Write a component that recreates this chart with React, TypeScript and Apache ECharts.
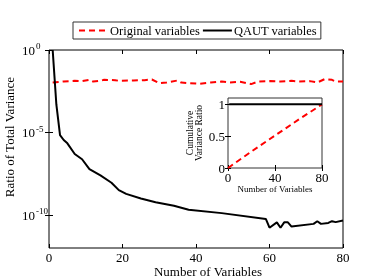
import React, { useEffect, useRef } from "react";
import * as echarts from "echarts";

const FONT = "'Liberation Serif', 'Times New Roman', 'DejaVu Serif', serif";

const seriesNames = ["Original variables", "QAUT variables"];

// Main panel: ratio of total variance per variable (x = variable index)
const originalRatio: [number, number][] = [
  [1, 1.07e-2], [4, 1.23e-2], [7, 1.36e-2], [9, 1.3e-2], [11, 1.56e-2], [12, 1.23e-2],
  [14, 1.36e-2], [15, 1.56e-2], [18, 1.49e-2], [19, 1.36e-2], [23, 1.42e-2], [26, 1.49e-2],
  [28, 1.63e-2], [30, 9.8e-3], [32, 1.07e-2], [35, 1.42e-2], [36, 1.07e-2], [38, 9.8e-3],
  [41, 8.9e-3], [44, 1.07e-2], [47, 1.23e-2], [49, 1.07e-2], [52, 1.2e-2], [55, 8.6e-3],
  [57, 1.23e-2], [60, 1.3e-2], [63, 1.23e-2], [66, 1.36e-2], [68, 1.23e-2], [71, 1.3e-2],
  [73, 1.07e-2], [75, 1.71e-2], [77, 1.56e-2], [78, 1.23e-2], [80, 1.23e-2],
];

const qautRatio: [number, number][] = [
  [1, 1], [2, 5e-4], [3, 7e-6], [4, 3.5e-6], [5, 2.2e-6], [7, 5e-7], [9, 2.4e-7],
  [11, 6e-8], [14, 2.5e-8], [17, 9e-9], [19, 3.2e-9], [21, 1.9e-9], [25, 1e-9],
  [29, 6e-10], [34, 3.6e-10], [38, 2.1e-10], [47, 1.3e-10], [59, 5.8e-11],
  [60, 1.7e-11], [62, 3.6e-11], [63, 1.7e-11], [64, 3.6e-11], [65, 3.6e-11],
  [66, 2e-11], [72, 2.9e-11], [73, 4.2e-11], [74, 2.9e-11], [76, 3.3e-11],
  [77, 4.2e-11], [78, 3.7e-11], [80, 4.6e-11],
];

// Inset: cumulative variance ratio
const originalCumulative: [number, number][] = [
  [0, 0], [20, 0.26], [40, 0.51], [60, 0.76], [80, 1],
];
const qautCumulative: [number, number][] = [
  [1, 1], [80, 1],
];

const mainXTicks = [0, 20, 40, 60, 80];
const mainYTicks = [1, 1e-5, 1e-10];
const insetXTicks = [0, 40, 80];
const insetYTicks = [0, 0.5, 1];

const xTitle = "Number of Variables";
const yTitle = "Ratio of Total Variance";
const insetYTitle = "Cumulative\nVariance Ratio";

export default function App() {
  const ref = useRef<HTMLDivElement>(null);

  useEffect(() => {
    if (!ref.current) return;
    const chart = echarts.init(ref.current, undefined, { renderer: "svg" });

    const tickStyle = { show: true, inside: true, length: 4, lineStyle: { color: "#000", width: 1 } };
    const labelStyle = { fontFamily: FONT, fontSize: 13, color: "#000" };

    const supFormatter = (v: number) => {
      const e = Math.round(Math.log10(v));
      return "{b|10}{s|" + e + "}";
    };
    const supRich = {
      b: { fontFamily: FONT, fontSize: 13, color: "#000" },
      s: { fontFamily: FONT, fontSize: 9, color: "#000", padding: [0, 0, 8, 1] },
    };

    const option: any = {
      animation: false,
      legend: {
        data: seriesNames,
        left: 73,
        top: 22,
        orient: "horizontal",
        itemWidth: 29,
        itemHeight: 14,
        itemGap: 2,
        padding: [2, 4, 2, 5],
        borderColor: "#333",
        borderWidth: 1,
        backgroundColor: "#fff",
        itemStyle: { opacity: 0 },
        textStyle: { fontFamily: FONT, fontSize: 12.5, color: "#000", padding: [0, 0, 0, -3] },
      },
      grid: [
        { left: 49, right: 36, top: 50, bottom: 32, show: true, borderColor: "#000", borderWidth: 1, backgroundColor: "transparent" },
        { left: 228, top: 98, width: 94, height: 70, show: true, borderColor: "#333", borderWidth: 1, backgroundColor: "#fff", z: 5 },
      ],
      xAxis: [
        {
          type: "value", gridIndex: 0, min: 0, max: 80, interval: 20, position: "bottom",
          axisLine: { show: false }, axisTick: tickStyle, splitLine: { show: false },
          axisLabel: { ...labelStyle, lineHeight: 12, margin: 3, customValues: mainXTicks },
        },
        {
          type: "value", gridIndex: 0, min: 0, max: 80, interval: 20, position: "top",
          axisLine: { show: false }, axisTick: tickStyle, splitLine: { show: false },
          axisLabel: { show: false },
        },
        {
          type: "value", gridIndex: 1, min: 0, max: 80, interval: 40, position: "bottom",
          axisLine: { show: false }, axisTick: { ...tickStyle, length: 3 }, splitLine: { show: false },
          axisLabel: { ...labelStyle, fontSize: 13, margin: 3, customValues: insetXTicks },
          name: xTitle, nameLocation: "middle", nameGap: 15,
          nameTextStyle: { fontFamily: FONT, fontSize: 9, color: "#000" },
          z: 6,
        },
        {
          type: "value", gridIndex: 1, min: 0, max: 80, interval: 40, position: "top",
          axisLine: { show: false }, axisTick: { ...tickStyle, length: 3 }, splitLine: { show: false },
          axisLabel: { show: false }, z: 6,
        },
      ],
      yAxis: [
        {
          type: "log", logBase: 10, gridIndex: 0, min: 1e-12, max: 1, position: "left",
          axisLine: { show: false },
          axisTick: { ...tickStyle, customValues: mainYTicks },
          minorTick: { show: false }, splitLine: { show: false },
          axisLabel: { formatter: supFormatter, rich: supRich, margin: 27, align: "left", customValues: mainYTicks },
        },
        {
          type: "log", logBase: 10, gridIndex: 0, min: 1e-12, max: 1, position: "right",
          axisLine: { show: false },
          axisTick: { ...tickStyle, customValues: mainYTicks },
          splitLine: { show: false }, axisLabel: { show: false },
        },
        {
          type: "value", gridIndex: 1, min: 0, max: 1.1, interval: 0.5, position: "left",
          axisLine: { show: false }, axisTick: { ...tickStyle, length: 3, customValues: insetYTicks },
          splitLine: { show: false },
          axisLabel: { ...labelStyle, fontSize: 13, margin: 3, customValues: insetYTicks },
          name: insetYTitle, nameLocation: "middle", nameGap: 25,
          nameTextStyle: { fontFamily: FONT, fontSize: 9.5, lineHeight: 9, color: "#000", align: "center" },
          z: 6,
        },
        {
          type: "value", gridIndex: 1, min: 0, max: 1.1, interval: 0.5, position: "right",
          axisLine: { show: false }, axisTick: { ...tickStyle, length: 3, customValues: insetYTicks },
          splitLine: { show: false }, axisLabel: { show: false }, z: 6,
        },
      ],
      series: [
        {
          name: seriesNames[0], type: "line", xAxisIndex: 0, yAxisIndex: 0,
          data: originalRatio, symbol: "none", showSymbol: false,
          lineStyle: { color: "#ff0000", width: 2, type: [6, 4] }, itemStyle: { color: "#ff0000" },
        },
        {
          name: seriesNames[1], type: "line", xAxisIndex: 0, yAxisIndex: 0,
          data: qautRatio, symbol: "none", showSymbol: false,
          lineStyle: { color: "#000", width: 2 }, itemStyle: { color: "#000" },
        },
        {
          name: seriesNames[0], type: "line", xAxisIndex: 2, yAxisIndex: 2,
          data: originalCumulative, symbol: "none", showSymbol: false, z: 7,
          lineStyle: { color: "#ff0000", width: 2, type: [6, 4] }, itemStyle: { color: "#ff0000" },
        },
        {
          name: seriesNames[1], type: "line", xAxisIndex: 2, yAxisIndex: 2,
          data: qautCumulative, symbol: "none", showSymbol: false, z: 7,
          lineStyle: { color: "#000", width: 2 }, itemStyle: { color: "#000" },
        },
      ],
      graphic: [
        {
          type: "text", x: 208, y: 271,
          style: { text: xTitle, fontFamily: FONT, fontSize: 13, fill: "#000", align: "center", verticalAlign: "middle" },
        },
        {
          type: "text", x: 9, y: 137, rotation: Math.PI / 2,
          style: { text: yTitle, fontFamily: FONT, fontSize: 13, fill: "#000", align: "center", verticalAlign: "middle" },
        },
      ],
    };

    chart.setOption(option);
    return () => chart.dispose();
  }, []);

  return <div ref={ref} style={{ position: "fixed", left: 0, top: 0, width: 379, height: 280 }} />;
}
